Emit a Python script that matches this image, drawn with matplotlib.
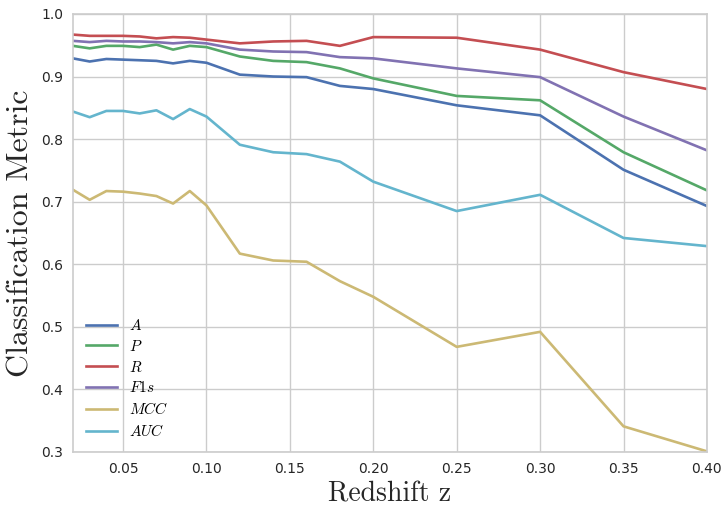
import matplotlib
matplotlib.use("Agg")
import matplotlib.pyplot as plt

plt.rcParams["mathtext.fontset"] = "cm"

z = [0.02, 0.03, 0.04, 0.05, 0.06, 0.07, 0.08, 0.09, 0.10,
     0.12, 0.14, 0.16, 0.18, 0.20, 0.25, 0.30, 0.35, 0.40]

acc = [0.929, 0.924, 0.928, 0.927, 0.926, 0.925, 0.921, 0.925, 0.922,
       0.903, 0.900, 0.899, 0.885, 0.880, 0.854, 0.838, 0.751, 0.693]
prec = [0.949, 0.945, 0.949, 0.949, 0.947, 0.951, 0.943, 0.949, 0.947,
        0.932, 0.925, 0.923, 0.913, 0.897, 0.869, 0.862, 0.779, 0.718]
rec = [0.967, 0.965, 0.965, 0.965, 0.964, 0.961, 0.963, 0.962, 0.959,
       0.953, 0.956, 0.957, 0.949, 0.963, 0.962, 0.943, 0.907, 0.880]
f1s = [0.957, 0.955, 0.957, 0.956, 0.956, 0.955, 0.953, 0.955, 0.953,
       0.943, 0.940, 0.939, 0.931, 0.929, 0.913, 0.899, 0.836, 0.782]
mcc = [0.719, 0.703, 0.717, 0.716, 0.713, 0.709, 0.697, 0.717, 0.694,
       0.617, 0.606, 0.604, 0.573, 0.548, 0.468, 0.492, 0.341, 0.301]
auc = [0.844, 0.835, 0.845, 0.845, 0.841, 0.846, 0.832, 0.848, 0.836,
       0.791, 0.779, 0.776, 0.764, 0.732, 0.685, 0.711, 0.642, 0.629]

labels = ["$A$", "$P$", "$R$", "$F1s$", "$MCC$", "$AUC$"]
colors = ["#4C72B0", "#55A868", "#C44E52", "#8172B2", "#CCB974", "#64B5CD"]

fig = plt.figure(figsize=(7.27, 5.07), dpi=100)
ax = fig.add_axes([0.1004, 0.1085, 0.872, 0.864])

for series, lab, col in zip([acc, prec, rec, f1s, mcc, auc], labels, colors):
    ax.plot(z, series, color=col, lw=1.9, label=lab)

ax.set_xlim(0.02, 0.40)
ax.set_ylim(0.3, 1.0)
ax.set_xticks([0.05, 0.10, 0.15, 0.20, 0.25, 0.30, 0.35, 0.40])
ax.set_yticks([0.3, 0.4, 0.5, 0.6, 0.7, 0.8, 0.9, 1.0])
ax.set_xticklabels(["0.05", "0.10", "0.15", "0.20", "0.25", "0.30", "0.35", "0.40"])
ax.tick_params(length=0, labelsize=10, colors="#262626", pad=7)
ax.grid(True, color="#CCCCCC", lw=1.0)
ax.set_axisbelow(True)
for s in ax.spines.values():
    s.set_color("#CCCCCC")
    s.set_linewidth(1.2)

ax.set_xlabel("Redshift z", fontname="cmr10", fontsize=20, color="#262626")
ax.set_ylabel("Classification Metric", fontname="cmr10", fontsize=23, color="#262626",
              labelpad=5)

leg = ax.legend(loc="lower left", frameon=False, fontsize=11, handlelength=2.0,
                handletextpad=0.8, labelspacing=0.38, borderaxespad=0.45)

fig.savefig("out.png", dpi=100)
